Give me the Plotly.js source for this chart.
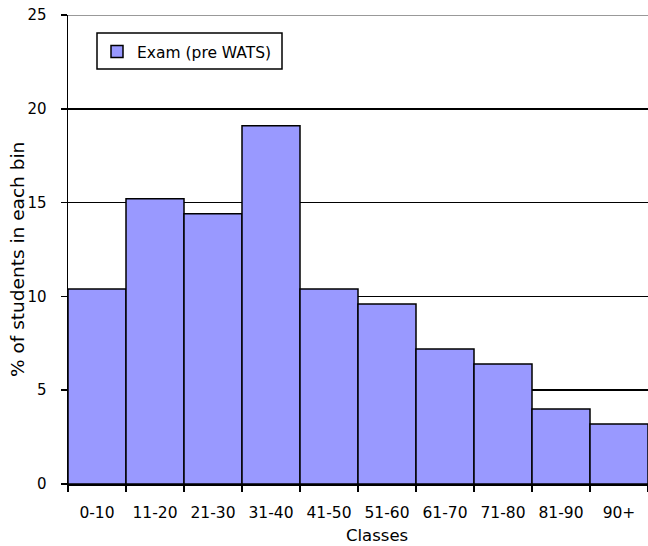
<!DOCTYPE html>
<html>
<head>
<meta charset="utf-8">
<script src="https://cdn.plot.ly/plotly-3.0.1.min.js"></script>
<style>html,body{margin:0;padding:0;background:#fff;}#chart{width:648px;height:546px;}</style>
</head>
<body>
<div id="chart"></div>
<script>
var classes = ["0-10","11-20","21-30","31-40","41-50","51-60","61-70","71-80","81-90","90+"];
var examPreWATS = [10.4, 15.2, 14.4, 19.1, 10.4, 9.6, 7.2, 6.4, 4.0, 3.2];
var seriesName = "Exam (pre WATS)";
var xTitle = "Classes";
var yTitle = "% of students in each bin";
var yTicks = [0, 5, 10, 15, 20, 25];

var fam = "DejaVu Sans, Verdana, sans-serif";
function f(s) { return {family: fam, size: s, color: "#000"}; }

var trace = {
  type: "bar",
  x: classes,
  y: examPreWATS,
  name: seriesName,
  marker: {color: "#9999FF", line: {color: "#000", width: 1.5}},
  showlegend: true,
  hoverinfo: "x+y"
};

var L = 68, T = 15, W = 580, H = 469;

var layout = {
  width: 648, height: 546,
  margin: {l: L, r: 648 - L - W, t: T, b: 546 - T - H, pad: 0},
  paper_bgcolor: "#fff", plot_bgcolor: "#fff",
  font: f(15),
  bargap: 0,
  showlegend: true,
  legend: {
    x: (97 - L) / W, y: (484 - 35) / H, xanchor: "left", yanchor: "top",
    bgcolor: "rgba(0,0,0,0)", borderwidth: 0,
    font: f(15.5),
    itemwidth: 30, tracegroupgap: 0
  },
  xaxis: {
    type: "category",
    tickson: "boundaries",
    ticks: "outside", ticklen: 6, tickcolor: "#000", tickwidth: 1.5,
    showline: true, linecolor: "#000", linewidth: 1.5,
    showgrid: false, zeroline: false,
    ticklabelstandoff: 14,
    tickfont: f(15.5)
  },
  yaxis: {
    range: [0, 25],
    tickvals: yTicks,
    ticks: "outside", ticklen: 6, tickcolor: "#000", tickwidth: 1.5,
    showline: true, linecolor: "#000", linewidth: 1.5,
    showgrid: true, gridcolor: "#000", gridwidth: 1.5,
    zeroline: false,
    ticklabelstandoff: 11,
    tickfont: f(15)
  },
  annotations: [
    {text: xTitle, xref: "paper", yref: "paper", x: (376.5 - L) / W, y: (484 - 535) / H,
     xanchor: "center", yanchor: "middle", showarrow: false, font: f(16.5)},
    {text: yTitle, xref: "paper", yref: "paper", x: (17.5 - L) / W, y: (484 - 259.5) / H,
     xanchor: "center", yanchor: "middle", textangle: -90, showarrow: false, font: f(18.5)}
  ],
  shapes: [
    {type: "line", xref: "paper", yref: "y", x0: 0, x1: 1, y0: 25, y1: 25,
     line: {color: "#999", width: 2}, layer: "below"},
    {type: "rect", xref: "paper", yref: "paper",
     x0: (97 - L) / W, x1: (282 - L) / W,
     y0: (484 - 69) / H, y1: (484 - 33) / H,
     line: {color: "#000", width: 1.5}, fillcolor: "rgba(0,0,0,0)", layer: "above"}
  ]
};

Plotly.newPlot("chart", [trace], layout, {displayModeBar: false, staticPlot: true});
</script>
</body>
</html>
